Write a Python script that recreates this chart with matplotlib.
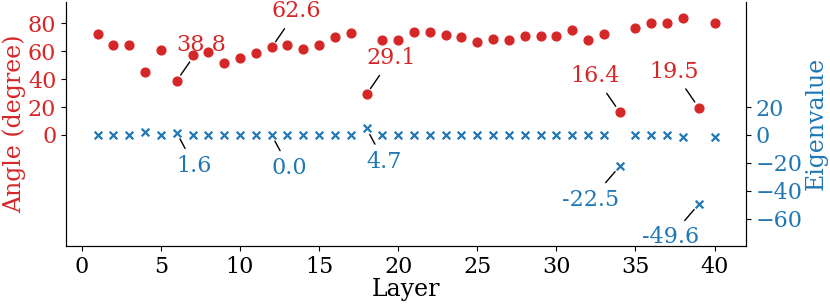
import numpy as np
import matplotlib
matplotlib.use('Agg')
import matplotlib.pyplot as plt

plt.rcParams['font.family'] = 'DejaVu Serif'

layers = list(range(1, 41))
angles = [72.4, 64.3, 64.3, 44.8, 60.5, 38.8, 57.4, 59.3, 51.7, 55.0,
          58.6, 62.6, 64.3, 61.4, 64.3, 70.0, 72.9, 29.1, 67.9, 67.9,
          73.4, 73.4, 71.4, 70.3, 66.4, 68.4, 67.9, 70.5, 70.5, 70.7,
          74.8, 67.9, 72.4, 16.4, 76.2, 79.8, 80.2, 83.4, 19.5, 80.2]
eigen = [0.0, 0.0, 0.0, 2.3, 0.0, 1.6, 0.0, 0.0, 0.0, 0.0,
         0.0, 0.0, 0.0, 0.0, 0.0, 0.0, 0.0, 4.7, 0.0, 0.0,
         0.0, 0.0, 0.0, 0.0, 0.0, 0.0, 0.0, 0.0, 0.0, 0.0,
         0.0, 0.0, 0.0, -22.5, 0.0, 0.0, 0.0, -1.3, -49.6, -1.2]

# annotated layers and which side the label sits on
angle_notes = [(6, 'left'), (12, 'left'), (18, 'left'), (34, 'right'), (39, 'right')]
eigen_notes = [(6, 'left'), (12, 'left'), (18, 'left'), (34, 'right'), (39, 'right')]

red = '#d62728'
blue = '#1f77b4'
fs = 16
lfs = 17

fig = plt.figure(figsize=(8.3, 3.06), dpi=100)
ax = fig.add_axes([0.0795, 0.196, 0.8195, 0.799])
ax2 = ax.twinx()

ax.scatter(layers, angles, color=red, s=40, zorder=3)
ax2.scatter(layers, eigen, color=blue, marker='x', s=30, linewidths=1.6, zorder=3)

for l, ha in angle_notes:
    v = angles[l - 1]
    ax.annotate('{:.1f}'.format(v), xy=(l, v), xytext=(0, 18), textcoords='offset points',
                ha=ha, va='bottom', color=red, fontsize=fs,
                arrowprops=dict(arrowstyle='-', color='black', lw=1, shrinkA=3, shrinkB=5))

for l, ha in eigen_notes:
    v = eigen[l - 1]
    ax2.annotate('{:.1f}'.format(v), xy=(l, v), xytext=(0, -16), textcoords='offset points',
                 ha=ha, va='top', color=blue, fontsize=fs,
                 arrowprops=dict(arrowstyle='-', color='black', lw=1, shrinkA=3, shrinkB=5))

ax.set_xlim(-1, 42)
ax.set_ylim(-79.5, 95.5)
ax2.set_ylim(-79.5, 95.5)
ax.set_yticks([0, 20, 40, 60, 80])
ax2.set_yticks([-60, -40, -20, 0, 20])
ax.set_xticks(range(0, 41, 5))

ax.set_xlabel('Layer', fontsize=lfs, labelpad=0)
ax.set_ylabel('Angle (degree)', color=red, fontsize=lfs, labelpad=1)
ax2.set_ylabel('Eigenvalue', color=blue, fontsize=lfs, labelpad=1)
ax.tick_params(axis='both', labelsize=fs)
ax.tick_params(axis='y', labelcolor=red)
ax2.tick_params(axis='y', labelsize=fs, labelcolor=blue)

for a in (ax, ax2):
    a.spines['top'].set_visible(False)

fig.savefig('out.png', dpi=100)
